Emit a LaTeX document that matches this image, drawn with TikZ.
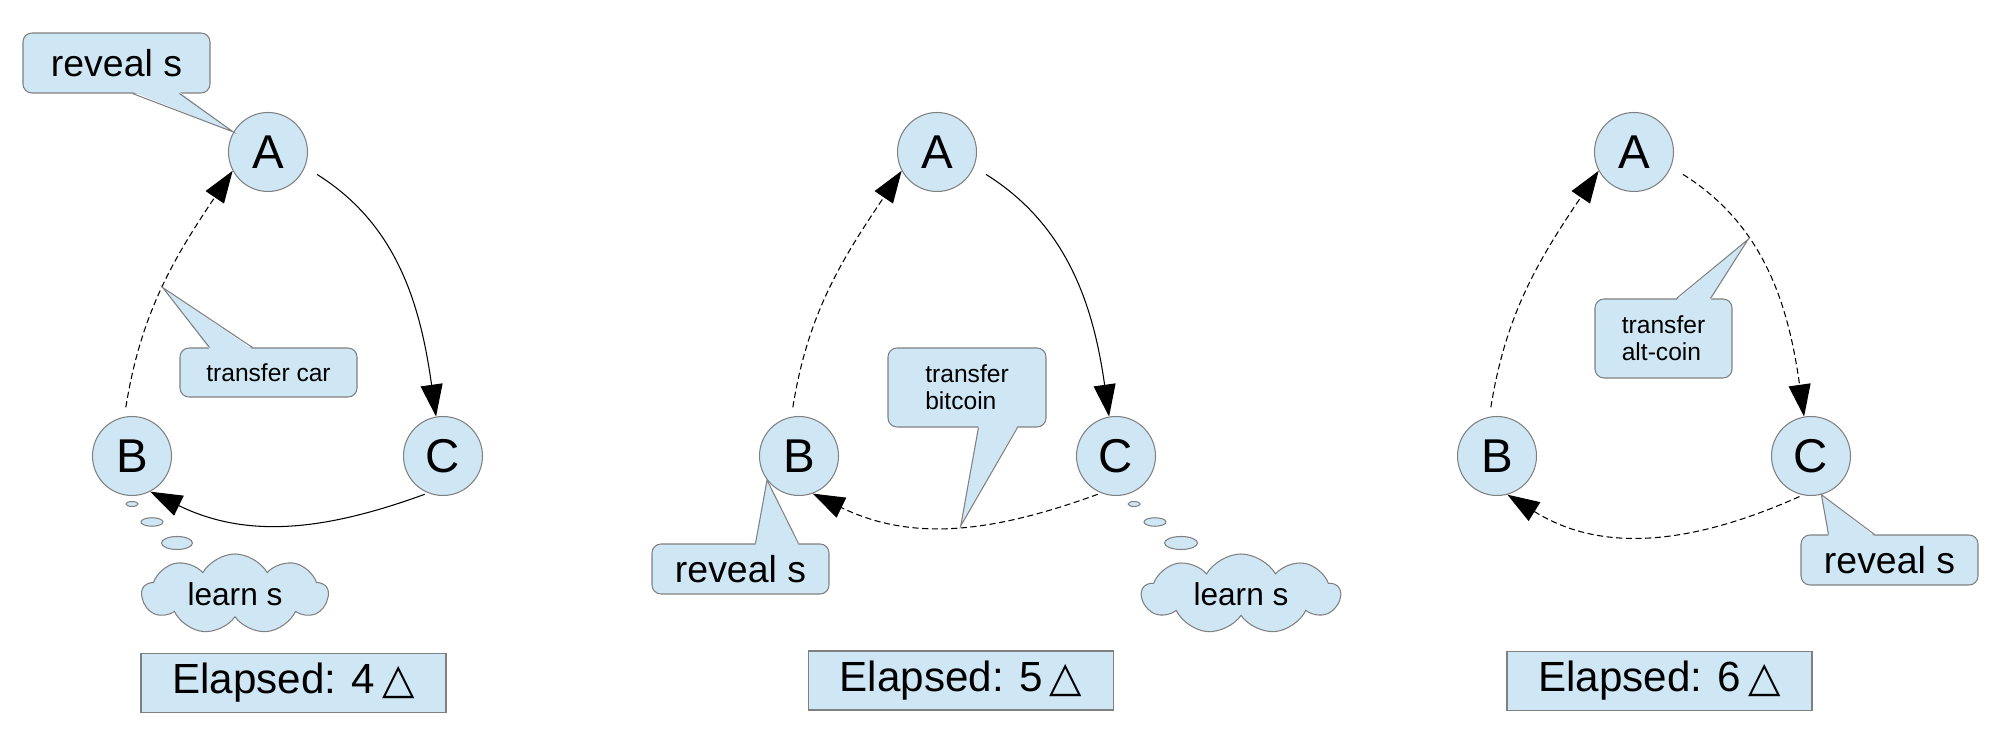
\documentclass[tikz,border=0pt]{standalone}
\usepackage{fontspec}
\setmainfont{Liberation Sans}
\newfontfamily\symbolfont{DejaVu Sans}
\usepackage{tikz}
\usetikzlibrary{shapes.symbols, arrows.meta}
\definecolor{paleblue}{RGB}{207,231,245}
\definecolor{edgegray}{RGB}{128,128,128}
\tikzset{
    party/.style={circle, draw=edgegray, fill=paleblue, line width=0.6pt, minimum size=1.58cm, inner sep=0pt, font=\fontsize{27}{30}\selectfont},
    callout/.style={rectangle, rounded corners=0.18cm, draw=edgegray, fill=paleblue, line width=0.6pt, inner sep=0pt, align=left},
    pointer/.style={draw=edgegray, line width=0.6pt},
    thought/.style={cloud, cloud puffs=9, cloud puff arc=120, cloud ignores aspect, draw=edgegray, fill=paleblue, line width=0.6pt, inner sep=0pt, font=\fontsize{18}{20}\selectfont},
    bubble/.style={draw=edgegray, fill=paleblue, line width=0.6pt},
    elapsed/.style={rectangle, draw=edgegray, fill=paleblue, line width=0.6pt, minimum width=6.1cm, minimum height=1.18cm, font=\fontsize{24}{28}\selectfont},
    arrow/.style={-{Triangle[length=0.64cm, width=0.44cm]}, line width=0.6pt},
    pending/.style={arrow, dash pattern=on 3.5pt off 2pt},
    bigtext/.style={font=\fontsize{21.3}{24}\selectfont},
    smalltext/.style={font=\fontsize{14}{15.4}\selectfont},
}
\begin{document}
\begin{tikzpicture}

    \useasboundingbox (0,0) rectangle (40.24,14.84);

    % Elapsed 4
    \node[party] (a1) at (5.36,11.80) {A};
    \node[party] (b1) at (2.64,5.72) {B};
    \node[party] (c1) at (8.86,5.72) {C};

    \draw[arrow, shorten <=0.28cm] (a1.-22) to[out=-32, in=98] (c1.100);
    \draw[pending, shorten <=0.19cm] (b1.101) to[out=81, in=236] coordinate[pos=0.5] (carpt) (a1.208);
    \draw[arrow, shorten <=0.07cm] (c1.248) to[out=200, in=-26] (b1.297);

    \node[callout, bigtext, minimum width=3.74cm, minimum height=1.2cm] (reveal1) at (2.33,13.58) {reveal s};
    \fill[paleblue] ([xshift=2.2cm, yshift=1pt]reveal1.south west) -- (a1.150) -- ([xshift=3.14cm, yshift=1pt]reveal1.south west) -- cycle;
    \draw[pointer] ([xshift=2.2cm]reveal1.south west) -- (a1.150) -- ([xshift=3.14cm]reveal1.south west);

    \node[callout, smalltext, minimum width=3.54cm, minimum height=0.98cm] (car) at (5.37,7.39) {transfer car};
    \fill[paleblue] ([xshift=0.6cm, yshift=-1pt]car.north west) -- (carpt) -- ([xshift=1.46cm, yshift=-1pt]car.north west) -- cycle;
    \draw[pointer] ([xshift=0.6cm]car.north west) -- (carpt) -- ([xshift=1.46cm]car.north west);

    \draw[bubble] (2.64,4.76) ellipse (0.12 and 0.05);
    \draw[bubble] (3.04,4.40) ellipse (0.22 and 0.085);
    \draw[bubble] (3.54,3.98) ellipse (0.31 and 0.13);
    \node[thought, minimum width=3.72cm, minimum height=1.6cm] (cloud1) at (4.70,2.96) {learn s};

    \node[elapsed] (elapsed1) at (5.87,1.18) {Elapsed: 4\,{\symbolfont △}};

    % Elapsed 5
    \node[party] (a2) at (18.74,11.80) {A};
    \node[party] (b2) at (15.98,5.72) {B};
    \node[party] (c2) at (22.32,5.72) {C};

    \draw[arrow, shorten <=0.28cm] (a2.-22) to[out=-32, in=98] (c2.100);
    \draw[pending, shorten <=0.19cm] (b2.101) to[out=81, in=236] (a2.208);
    \draw[pending, shorten <=0.07cm] (c2.248) to[out=200, in=-26] coordinate[pos=0.48] (bitpt) (b2.290);

    \node[callout, smalltext, minimum width=3.16cm, minimum height=1.58cm] (bitcoin) at (19.34,7.09) {transfer\\bitcoin};
    \fill[paleblue] ([xshift=1.82cm, yshift=1pt]bitcoin.south west) -- (bitpt) -- ([xshift=2.6cm, yshift=1pt]bitcoin.south west) -- cycle;
    \draw[pointer] ([xshift=1.82cm]bitcoin.south west) -- (bitpt) -- ([xshift=2.6cm]bitcoin.south west);

    \node[callout, bigtext, minimum width=3.54cm, minimum height=1.0cm] (reveal2) at (14.81,3.46) {reveal s};
    \fill[paleblue] ([xshift=2.08cm, yshift=-1pt]reveal2.north west) -- (b2.217) -- ([xshift=2.94cm, yshift=-1pt]reveal2.north west) -- cycle;
    \draw[pointer] ([xshift=2.08cm]reveal2.north west) -- (b2.217) -- ([xshift=2.94cm]reveal2.north west);

    \draw[bubble] (22.68,4.76) ellipse (0.12 and 0.05);
    \draw[bubble] (23.10,4.40) ellipse (0.22 and 0.085);
    \draw[bubble] (23.62,3.98) ellipse (0.33 and 0.13);
    \node[thought, minimum width=3.96cm, minimum height=1.6cm] (cloud2) at (24.82,2.96) {learn s};

    \node[elapsed] (elapsed2) at (19.22,1.23) {Elapsed: 5\,{\symbolfont △}\hspace{0.4cm}};

    % Elapsed 6
    \node[party] (a3) at (32.68,11.80) {A};
    \node[party] (b3) at (29.94,5.72) {B};
    \node[party] (c3) at (36.22,5.72) {C};

    \draw[pending, shorten <=0.28cm] (a3.-22) to[out=-32, in=98] coordinate[pos=0.36] (altpt) (c3.100);
    \draw[pending, shorten <=0.19cm] (b3.101) to[out=81, in=236] (a3.208);
    \draw[pending, shorten <=0.07cm] (c3.258) to[out=204, in=-32] (b3.285);

    \node[callout, smalltext, minimum width=2.74cm, minimum height=1.58cm] (altcoin) at (33.27,8.07) {transfer\\alt-coin};
    \fill[paleblue] ([xshift=1.64cm, yshift=-1pt]altcoin.north west) -- (altpt) -- ([xshift=2.32cm, yshift=-1pt]altcoin.north west) -- cycle;
    \draw[pointer] ([xshift=1.64cm]altcoin.north west) -- (altpt) -- ([xshift=2.32cm]altcoin.north west);

    \node[callout, bigtext, minimum width=3.54cm, minimum height=1.0cm] (reveal3) at (37.79,3.64) {reveal s};
    \fill[paleblue] ([xshift=0.56cm, yshift=-1pt]reveal3.north west) -- (c3.285) -- ([xshift=1.48cm, yshift=-1pt]reveal3.north west) -- cycle;
    \draw[pointer] ([xshift=0.56cm]reveal3.north west) -- (c3.285) -- ([xshift=1.48cm]reveal3.north west);

    \node[elapsed] (elapsed3) at (33.19,1.22) {Elapsed: 6\,{\symbolfont △}\hspace{0.4cm}};

\end{tikzpicture}
\end{document}
